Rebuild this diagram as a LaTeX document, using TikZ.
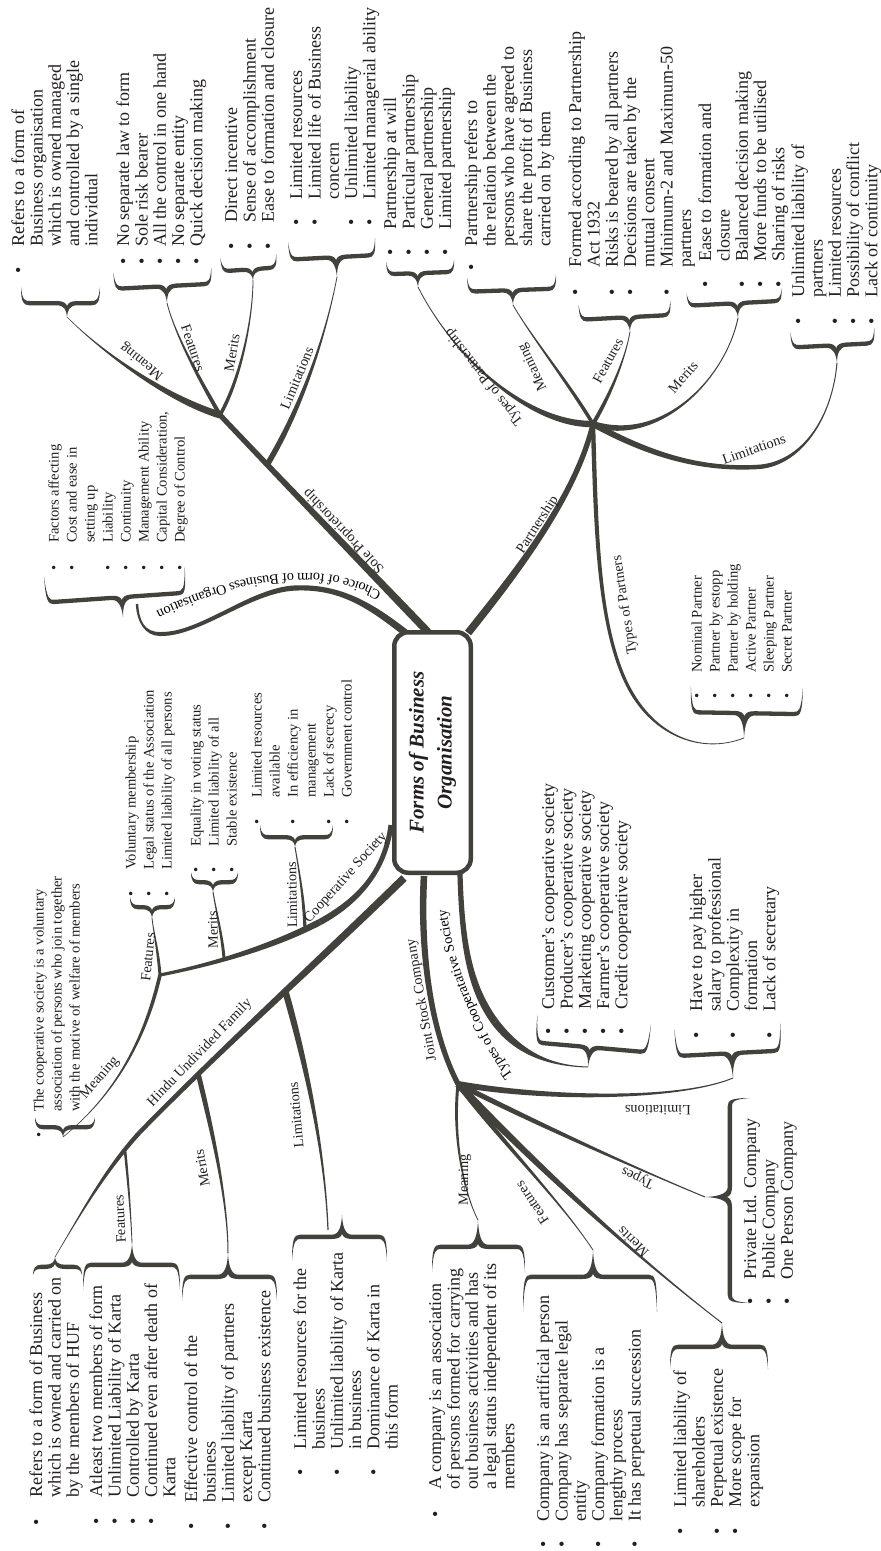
\documentclass[tikz,border=0pt]{standalone}
\usepackage{fontspec}
\setmainfont{Liberation Serif}
\usetikzlibrary{calc,decorations.text}
\definecolor{lc}{RGB}{66,65,60}
\definecolor{tc}{RGB}{35,31,32}
\newcommand\bi{\textbullet&}
\newcommand\biglst[5]{\node[bigl] (#1) at ({#2-8.8},{#3+3.15}) {\begin{tabular}{@{}c@{\hspace{\dimexpr #4pt-3.15pt\relax}}l@{}}#5\end{tabular}};}
\newcommand\smlst[5]{\node[smll] (#1) at ({#2-9.3},{#3+2.55}) {\begin{tabular}{@{}c@{\hspace{\dimexpr #4pt-2.55pt\relax}}l@{}}#5\end{tabular}};}
% tapered branch: start, c1, c2, end, half width start, half width end
\newcommand\br[6]{%
  \path #1 coordinate (bp0) #2 coordinate (bc1) #3 coordinate (bc2) #4 coordinate (bp1);
  \path ($(bp0)!#5pt!90:(bc1)$) coordinate (bp0l) ($(bp0)!#5pt!-90:(bc1)$) coordinate (bp0r)
        ($(bp1)!#6pt!-90:(bc2)$) coordinate (bp1l) ($(bp1)!#6pt!90:(bc2)$) coordinate (bp1r);
  \fill[lc] (bp0l) .. controls ($(bc1)+(bp0l)-(bp0)$) and ($(bc2)+(bp1l)-(bp1)$) .. (bp1l)
     -- (bp1r) .. controls ($(bc2)+(bp1r)-(bp1)$) and ($(bc1)+(bp0r)-(bp0)$) .. (bp0r) -- cycle;}
% calligraphic brace: name, tip x, tip y, rotation, a (left), b (right), h (arm depth), H (hook)
\newcommand\cbr[8]{%
  \begin{scope}[shift={(#2,#3)},rotate=#4]
  \coordinate (#1) at (0,0);
  \fill[lc] (0,0) .. controls (0.5,{-0.5*#7}) and (3,-#7+2.3) .. (10,-#7+2.3)
   -- (#6-8,-#7+2.3) .. controls (#6-2,-#7+2.3) and (#6,-#7-2) .. (#6,-#7-#8)
   .. controls (#6-1.4,-#7-2.2) and (#6-4,-#7-2) .. (#6-9,-#7-2)
   -- (10,-#7-2) .. controls (4,-#7-2) and (1,-#7) .. (0,-#7+3)
   .. controls (-1,-#7) and (-4,-#7-2) .. (-10,-#7-2)
   -- (-#5+9,-#7-2) .. controls (-#5+4,-#7-2) and (-#5+1.4,-#7-2.2) .. (-#5,-#7-#8)
   .. controls (-#5,-#7-2) and (-#5+2,-#7+2.3) .. (-#5+8,-#7+2.3)
   -- (-10,-#7+2.3) .. controls (-3,-#7+2.3) and (-0.5,{-0.5*#7}) .. (0,0) -- cycle;
  \end{scope}}
\begin{document}
\begin{tikzpicture}[x=1pt,y=-1pt,
  lab/.style={font=\fontsize{14.3}{16}\selectfont, text=tc, inner sep=0pt},
  bigl/.style={anchor=north west, rotate=90, inner sep=0pt, text=tc, font=\fontsize{18}{18.3}\selectfont},
  smll/.style={anchor=north west, rotate=90, inner sep=0pt, text=tc, font=\fontsize{14.6}{18}\selectfont}]
\fill[white] (0,0) rectangle (881,1551);
\useasboundingbox (0,0) rectangle (881,1551);

% ---------- braces ----------
\cbr{bSPmean}{67}{317}{0}{46}{33}{14}{16}
\cbr{bSPfeat}{167}{303}{3}{52}{46}{17}{16}
\cbr{bSPmer}{253}{280}{4}{31}{25}{11}{13}
\cbr{bSPlim}{337}{277}{3}{47}{40}{20}{17}
\cbr{bTP}{418}{287}{2}{31}{37}{14}{12}
\cbr{bPmean}{513}{305}{2}{45}{44}{15}{14}
\cbr{bPfeat}{630}{332}{3}{50}{42}{15}{15}
\cbr{bPmer}{738}{318}{3}{50}{45}{15}{12}
\cbr{bPlim}{837}{363}{3}{45}{39}{18}{15}
\cbr{bTPs}{744}{738}{-1}{54}{58}{25}{26}
\cbr{bCH}{123}{617}{4}{76}{65}{20}{26}
\cbr{bCmean}{63}{1137}{0}{28}{32}{10}{10}
\cbr{bCfeat}{152}{918}{0}{22}{23}{11}{10}
\cbr{bCmer}{213}{892}{0}{22}{25}{10}{10}
\cbr{bClim}{295}{847}{0}{35}{38}{10}{12}
\cbr{bTC}{588}{1067}{-5}{55}{59}{20}{28}
\cbr{bJlim}{733}{1078}{3}{56}{50}{25}{27}
\cbr{bJtypes}{705}{1197}{-90}{99}{106}{25}{20}
\cbr{bJmean}{478}{1220}{180}{47}{46}{27}{25}
\cbr{bJfeat}{593}{1250}{180}{64}{70}{27}{35}
\cbr{bJmer}{722}{1323}{180}{46}{52}{24}{22}
\cbr{bHmean}{55}{1257}{180}{27}{22}{10}{8}
\cbr{bHfeat}{132}{1243}{180}{48}{49}{22}{25}
\cbr{bHmer}{228}{1253}{180}{49}{46}{24}{24}
\cbr{bHlim}{342}{1215}{180}{45}{50}{22}{24}

% ---------- hub coordinates ----------
\coordinate (rSP) at (428,632);
\coordinate (spS) at (267,465);
\coordinate (spH) at (220,415);
\coordinate (rCH) at (407,634);
\coordinate (chA) at (295,588);
\coordinate (chB) at (160,634);
\coordinate (chE) at (137,604);
\coordinate (rP) at (468,633);
\coordinate (pH) at (593,424);
\coordinate (plA) at (757,467);
\coordinate (ptA) at (625,680);
\coordinate (rCO) at (391,825);
\coordinate (coA) at (320,922);
\coordinate (coH) at (160,975);
\coordinate (coM) at (224,958);
\coordinate (coL) at (305,929);
\coordinate (rHU) at (404,878);
\coordinate (huA) at (140,1132);
\coordinate (huF) at (125,1150);
\coordinate (huM) at (198,1073);
\coordinate (huL) at (285,990);
\coordinate (huLE) at (328,1230);
\coordinate (rJ) at (424,876);
\coordinate (jH) at (458,1084);
\coordinate (rTC) at (460,874);
\coordinate (tcA) at (495,1022);

% ---------- branches ----------
% Sole proprietorship
\br{(rSP)}{(359,560)}{(289,488)}{(spH)}{3.8}{2.6}
\br{(spS)}{(300,410)}{(325,340)}{(bSPlim)}{2.8}{0.4}
\br{(spH)}{(170,400)}{(105,355)}{(bSPmean)}{3.5}{0.3}
\br{(spH)}{(200,380)}{(175,335)}{(bSPfeat)}{2}{0.4}
\br{(spH)}{(240,380)}{(253,320)}{(bSPmer)}{1.8}{0.4}
% Choice
\br{(rCH)}{(370,605)}{(340,586)}{(chA)}{3.5}{2.6}
\br{(chA)}{(250,590)}{(200,635)}{(chB)}{2.6}{2}
\br{(chB)}{(145,634)}{(138,622)}{(chE)}{2}{1.2}
% Partnership
\br{(rP)}{(510,580)}{(575,500)}{(pH)}{3.8}{2.6}
\br{(pH)}{(530,425)}{(455,360)}{(bTP)}{3.2}{0.4}
\br{(pH)}{(570,385)}{(530,335)}{(bPmean)}{1.8}{0.4}
\br{(pH)}{(610,395)}{(625,360)}{(bPfeat)}{2}{0.4}
\br{(pH)}{(660,445)}{(725,380)}{(bPmer)}{3}{0.5}
\br{(pH)}{(650,455)}{(700,470)}{(plA)}{3}{2.2}
\br{(plA)}{(800,465)}{(832,420)}{(bPlim)}{2.2}{0.5}
\br{(pH)}{(596,530)}{(598,620)}{(ptA)}{2.2}{1.6}
\br{(ptA)}{(650,735)}{(700,755)}{(bTPs)}{1.6}{0.4}
% Cooperative society
\br{(rCO)}{(385,870)}{(360,900)}{(coA)}{2.5}{3.2}
\br{(coA)}{(270,948)}{(210,965)}{(coH)}{3.2}{1.6}
\br{(coH)}{(158,950)}{(154,935)}{(bCfeat)}{1.5}{0.4}
\br{(coH)}{(145,1040)}{(115,1095)}{(bCmean)}{1.8}{0.3}
\br{(coM)}{(222,935)}{(216,910)}{(bCmer)}{1.5}{0.5}
\br{(coL)}{(304,900)}{(299,870)}{(bClim)}{1.6}{0.5}
% Hindu undivided family
\br{(rHU)}{(320,960)}{(220,1050)}{(huA)}{3.8}{2.2}
\br{(huA)}{(105,1170)}{(80,1215)}{(bHmean)}{2.2}{0.3}
\br{(huF)}{(128,1180)}{(131,1215)}{(bHfeat)}{1.3}{0.4}
\br{(huM)}{(212,1130)}{(228,1200)}{(bHmer)}{2.5}{0.5}
\br{(huL)}{(305,1060)}{(325,1150)}{(huLE)}{3.2}{0.6}
% Joint stock company
\br{(rJ)}{(420,950)}{(430,1030)}{(jH)}{3.3}{2.6}
\br{(jH)}{(550,1100)}{(680,1100)}{(bJlim)}{3}{0.5}
\br{(jH)}{(550,1130)}{(640,1170)}{(bJtypes)}{2.6}{0.5}
\br{(jH)}{(540,1170)}{(640,1260)}{(bJmer)}{3.6}{0.5}
\br{(jH)}{(500,1140)}{(560,1200)}{(bJfeat)}{2.5}{0.4}
\br{(jH)}{(452,1140)}{(465,1195)}{(bJmean)}{1.5}{0.4}
% Types of cooperative society
\br{(rTC)}{(462,945)}{(470,988)}{(tcA)}{2.6}{3.8}
\br{(tcA)}{(520,1055)}{(552,1066)}{(bTC)}{3.8}{0.5}

% ---------- central box ----------
\node[draw=lc, line width=4.5pt, rounded corners=14pt, fill=white, minimum width=240.5pt, minimum height=76.5pt,
      rotate=90, inner sep=0pt, align=center, text=tc, font=\fontsize{21}{28}\selectfont\bfseries\itshape]
      (root) at (432.5,752.5) {Forms of Business\\Organisation};

% ---------- branch labels ----------
\node[lab,rotate=133.6] (lSP) at (344,531) {Sole Proprietorship};
\node[lab,rotate=141] (lSPmean) at (142,361) {Meaning};
\node[lab,rotate=-71] (lSPfeat) at (193,348) {Features};
\node[lab,rotate=80] (lSPmer) at (232,353) {Merits};
\node[lab,rotate=67.5] (lSPlim) at (297,378) {Limitations};
\node[lab,rotate=57] (lP) at (538,525) {Partnership};
\node[lab,rotate=128] (lTP) at (484,377) {Types of Partnership};
\node[lab,rotate=115] (lPmean) at (533,367) {Meaning};
\node[lab,rotate=61] (lPfeat) at (608,361) {Features};
\node[lab,rotate=49] (lPmer) at (683,377) {Merits};
\node[lab,rotate=19] (lPlim) at (754,449) {Limitations};
\node[lab,rotate=99] (lTPs) at (625,605) {Types of Partners};
\node[lab,rotate=48] (lCO) at (346,878) {Cooperative Society};
\node[lab,rotate=84] (lCfeat) at (148,957) {Features};
\node[lab,rotate=91] (lCmer) at (213,930) {Merits};
\node[lab,rotate=91] (lClim) at (292,895) {Limitations};
\node[lab,rotate=49] (lCmean) at (100,1078) {Meaning};
\node[lab,rotate=46] (lHU) at (200,1053) {Hindu Undivided Family};
\node[lab,rotate=93] (lHfeat) at (120,1219) {Features};
\node[lab,rotate=100] (lHmer) at (202,1168) {Merits};
\node[lab,rotate=95] (lHlim) at (296,1115) {Limitations};
\node[lab,rotate=100] (lJ) at (422,1000) {Joint Stock Company};
\node[lab,rotate=180] (lJlim) at (658,1110) {Limitations};
\node[lab,rotate=155] (lJtypes) at (638,1177) {Types};
\node[lab,rotate=136] (lJmer) at (633,1242) {Merits};
\node[lab,rotate=124] (lJfeat) at (532,1203) {Features};
\node[lab,rotate=90] (lJmean) at (465,1180) {Meaning};
\path[color=tc, decorate, decoration={text along path, text align=center,
   text={|\fontsize{14.3}{16}\selectfont|Choice of form of Business Organisation}}]
   (398,604) -- (385,594) .. controls (330,562) and (250,565) .. (150,614) -- (138,620);
\path[color=tc, decorate, decoration={text along path, text align=center,
   text={|\fontsize{14.3}{16}\selectfont|Types of Cooperatative Society}}]
   (530,1096) -- (517,1081) .. controls (497,1058) and (452,977) .. (446,903) -- (445,883);

% ---------- lists ----------
\biglst{spMean}{20}{271}{24}{\bi Refers to a form of\\ & Business organisation\\ & which is owned managed\\ & and controlled by a single\\ & individual}
\biglst{spFeat}{125}{262}{15}{\bi No separate law to form\\ \bi Sole risk bearer\\ \bi All the control in one hand\\ \bi No separate entity\\ \bi Quick decision making}
\biglst{spMer}{233}{247}{24}{\bi Direct incentive\\ \bi Sense of accomplishment\\ \bi Ease to formation and closure}
\biglst{spLim}{298}{223}{23}{\bi Limited resources\\ \bi Limited life of Business\\ & concern\\ \bi Unlimited liability\\ \bi Limited managerial ability}
\biglst{tPship}{392}{253}{23}{\bi Partnership at will\\ \bi Particular partnership\\ \bi General partnership\\ \bi Limited partnership}
\biglst{pMean}{473}{268}{21}{\bi Partnership refers to\\ & the relation between the\\ & persons who have agreed to\\ & share the profit of Business\\ & carried on by them}
\biglst{pFeat}{577}{293}{25}{\bi Formed according to Partnership\\ & Act 1932\\ \bi Risks is beared by all partners\\ \bi Decisions are taken by the\\ & mutual consent\\ \bi Minimum-2 and Maximum-50\\ & partners}
\biglst{pMer}{707}{285}{23}{\bi Ease to formation and\\ & closure\\ \bi Balanced decision making\\ \bi More funds to be utilised\\ \bi Sharing of risks}
\biglst{pLim}{800}{322}{24}{\bi Unlimited liability of\\ & partners\\ \bi Limited resources\\ \bi Possibility of conflict\\ \bi Lack of continuity}
\smlst{tPs}{698}{696}{23}{\bi Nominal Partner\\ \bi Partner by estopp\\ \bi Partner by holding\\ \bi Active Partner\\ \bi Sleeping Partner\\ \bi Secret Partner}
\smlst{chL}{55}{568}{25}{\bi Factors affecting\\ \bi Cost and ease in\\ & setting up\\ \bi Liability\\ \bi Continuity\\ \bi Management Ability\\ \bi Capital Consideration,\\ \bi Degree of Control}
\smlst{cMean}{40}{1135}{23}{\bi The cooperative society is a voluntary\\ & association of persons who join together\\ & with the motive of welfare of members}
\smlst{cFeat}{132}{894}{24}{\bi Voluntary membership\\ \bi Legal status of the Association\\ \bi Limited liability of all persons}
\smlst{cMer}{197}{870}{23}{\bi Equality in voting status\\ \bi Limited liability of all\\ \bi Stable existence}
\smlst{cLim}{258}{822}{24}{\bi Limited resources\\ & available\\ \bi In efficiency in\\ & management\\ \bi Lack of secrecy\\ \bi Government control}
\biglst{tCoop}{550}{1032}{22}{\bi Customer's cooperative society\\ \bi Producer's cooperative society\\ \bi Marketing cooperative society\\ \bi Farmer's cooperative society\\ \bi Credit cooperative society}
\biglst{jLim}{698}{1036}{24}{\bi Have to pay higher\\ & salary to professional\\ \bi Complexity in\\ & formation\\ \bi Lack of secretary}
\biglst{jTypes}{752}{1302}{22}{\bi Private Ltd. Company\\ \bi Public Company\\ \bi One Person Company}
\biglst{jMean}{437}{1515}{25}{\bi A company is an association\\ & of persons formed for carrying\\ & out business activities and has\\ & a legal status independent of its\\ & members}
\biglst{jFeat}{545}{1545}{23}{\bi Company is an artificial person\\ \bi Company has separate legal\\ & entity\\ \bi Company formation is a\\ & lengthy process\\ \bi It has perpetual succession}
\biglst{jMer}{682}{1532}{24}{\bi Limited liability of\\ & shareholders\\ \bi Perpetual existence\\ \bi More scope for\\ & expansion}
\biglst{hMean}{38}{1523}{25}{\bi Refers to a form of Business\\ & which is owned and carried on\\ & by the members of HUF}
\biglst{hFeat}{98}{1522}{24}{\bi Atleast two members of form\\ \bi Unlimited Liability of Karta\\ \bi Controlled by Karta\\ \bi Continued even after death of\\ & Karta}
\biglst{hMer}{193}{1527}{24}{\bi Effective control of the\\ & business\\ \bi Limited liability of partners\\ & except Karta\\ \bi Continued business existence}
\biglst{hLim}{302}{1473}{23}{\bi Limited resources for the\\ & business\\ \bi Unlimited liability of Karta\\ & in business\\ \bi Dominance of Karta in\\ & this form}
\end{tikzpicture}
\end{document}
